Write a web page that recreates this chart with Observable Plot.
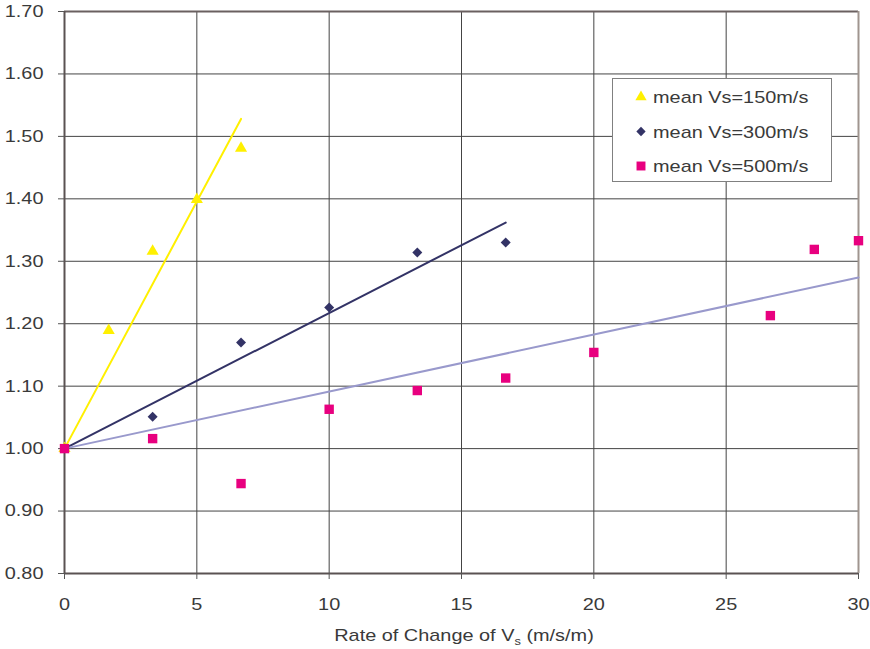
<!DOCTYPE html>
<html><head><meta charset="utf-8">
<script src="https://cdn.jsdelivr.net/npm/d3@7"></script>
<script src="https://cdn.jsdelivr.net/npm/@observablehq/plot@0.6"></script>
<style>body{margin:0;background:#fff}</style>
</head><body><div id="chart"></div>
<script>
// Data
const seriesNames = ["mean Vs=150m/s", "mean Vs=300m/s", "mean Vs=500m/s"];
const seriesColors = ["#fff000", "#333366", "#e8007f"];
const trendColors = ["#fff000", "#333366", "#9999cc"];

const rate150 = [0, 1.67, 3.33, 5, 6.67];
const ratio150 = [1.00, 1.189, 1.316, 1.399, 1.481];
const rate300 = [0, 3.33, 6.67, 10, 13.33, 16.67];
const ratio300 = [1.00, 1.051, 1.170, 1.226, 1.314, 1.330];
const rate500 = [0, 3.33, 6.67, 10, 13.33, 16.67, 20, 26.67, 28.33, 30];
const ratio500 = [1.00, 1.016, 0.944, 1.063, 1.093, 1.113, 1.154, 1.213, 1.319, 1.333];

const trend150X = [0, 6.67], trend150Y = [1.00, 1.528];
const trend300X = [0, 16.67], trend300Y = [1.00, 1.362];
const trend500X = [0, 30], trend500Y = [1.00, 1.274];

const xTicks = [0, 5, 10, 15, 20, 25, 30];
const yTicks = [0.80, 0.90, 1.00, 1.10, 1.20, 1.30, 1.40, 1.50, 1.60, 1.70];
const xLabelMain = "Rate of Change of V";
const xLabelSub = "s";
const xLabelTail = " (m/s/m)";

const FONT = "'Liberation Sans', Arial, Helvetica, sans-serif";
const SX = 1.17;
const TXT = "#3a3a3a";

const chart = Plot.plot({
  width: 870, height: 649,
  marginLeft: 64, marginRight: 12, marginTop: 11, marginBottom: 76,
  style: {fontFamily: FONT, fontSize: "17px", color: TXT, background: "#fff"},
  x: {domain: [0, 30]},
  y: {domain: [0.8, 1.7]},
  marks: [
    Plot.gridY(yTicks, {stroke: "#444", strokeOpacity: 1, strokeWidth: 1}),
    Plot.gridX(xTicks, {stroke: "#444", strokeOpacity: 1, strokeWidth: 1}),
    Plot.ruleY([1.7], {stroke: "#6a6060", strokeWidth: 2}),
    Plot.ruleX([30], {stroke: "#a0958f", strokeWidth: 2}),
    Plot.ruleX([0], {stroke: "#5a5252", strokeWidth: 2}),
    Plot.ruleY([0.8], {stroke: "#5a5252", strokeWidth: 2}),
    Plot.axisY(yTicks, {tickSize: 6, tickPadding: 15, tickFormat: d3.format(".2f"), fontSize: 17, label: null, stroke: "#555"}),
    Plot.axisX(xTicks, {tickSize: 6, tickPadding: 18, fontSize: 17, label: null, stroke: "#555"}),
    Plot.line(trend150X, {x: trend150X, y: trend150Y, stroke: trendColors[0], strokeWidth: 2}),
    Plot.line(trend300X, {x: trend300X, y: trend300Y, stroke: trendColors[1], strokeWidth: 2}),
    Plot.line(trend500X, {x: trend500X, y: trend500Y, stroke: trendColors[2], strokeWidth: 2}),
    Plot.dot(rate150, {x: rate150, y: ratio150, symbol: "triangle", r: 4.5, fill: seriesColors[0], stroke: "none"}),
    Plot.dot(rate300, {x: rate300, y: ratio300, symbol: "diamond2", r: 4.5, fill: seriesColors[1], stroke: "none"}),
    Plot.dot(rate500, {x: rate500, y: ratio500, symbol: "square", r: 5.3, fill: seriesColors[2], stroke: "none"})
  ]
});
document.getElementById("chart").appendChild(chart);

const svg = d3.select(chart);
const xs = chart.scale("x");

// stretch Plot's own axis texts horizontally (keep their positions)
svg.selectAll("text").each(function () {
  const t = this.getAttribute("transform") || "";
  this.setAttribute("transform", `${t} scale(${SX},1)`);
});

// x-axis label with subscript
const lab = svg.append("text")
  .attr("transform", `translate(${(xs.apply(0) + xs.apply(30)) / 2 + 3},641) scale(${SX},1)`)
  .attr("text-anchor", "middle")
  .attr("fill", TXT)
  .style("font-family", FONT).style("font-size", "17px");
lab.append("tspan").text(xLabelMain);
lab.append("tspan").attr("dy", 4).style("font-size", "11px").text(xLabelSub);
lab.append("tspan").attr("dy", -4).text(xLabelTail);

// legend
const lg = svg.append("g");
lg.append("rect").attr("x", 612.5).attr("y", 78.5).attr("width", 219).attr("height", 103)
  .attr("fill", "#fff").attr("stroke", "#808080");
const syms = [[d3.symbolTriangle, 55], [d3.symbolDiamond2, 55], [d3.symbolSquare, 80]];
seriesNames.forEach((name, i) => {
  const cy = 97 + i * 34.5;
  lg.append("path").attr("d", d3.symbol(syms[i][0], syms[i][1])())
    .attr("transform", `translate(641,${cy})`).attr("fill", seriesColors[i]);
  lg.append("text")
    .attr("transform", `translate(653,${cy + 6}) scale(${SX},1)`)
    .attr("text-anchor", "start")
    .attr("fill", TXT).style("font-family", FONT).style("font-size", "17px").text(name);
});
</script>
</body></html>
